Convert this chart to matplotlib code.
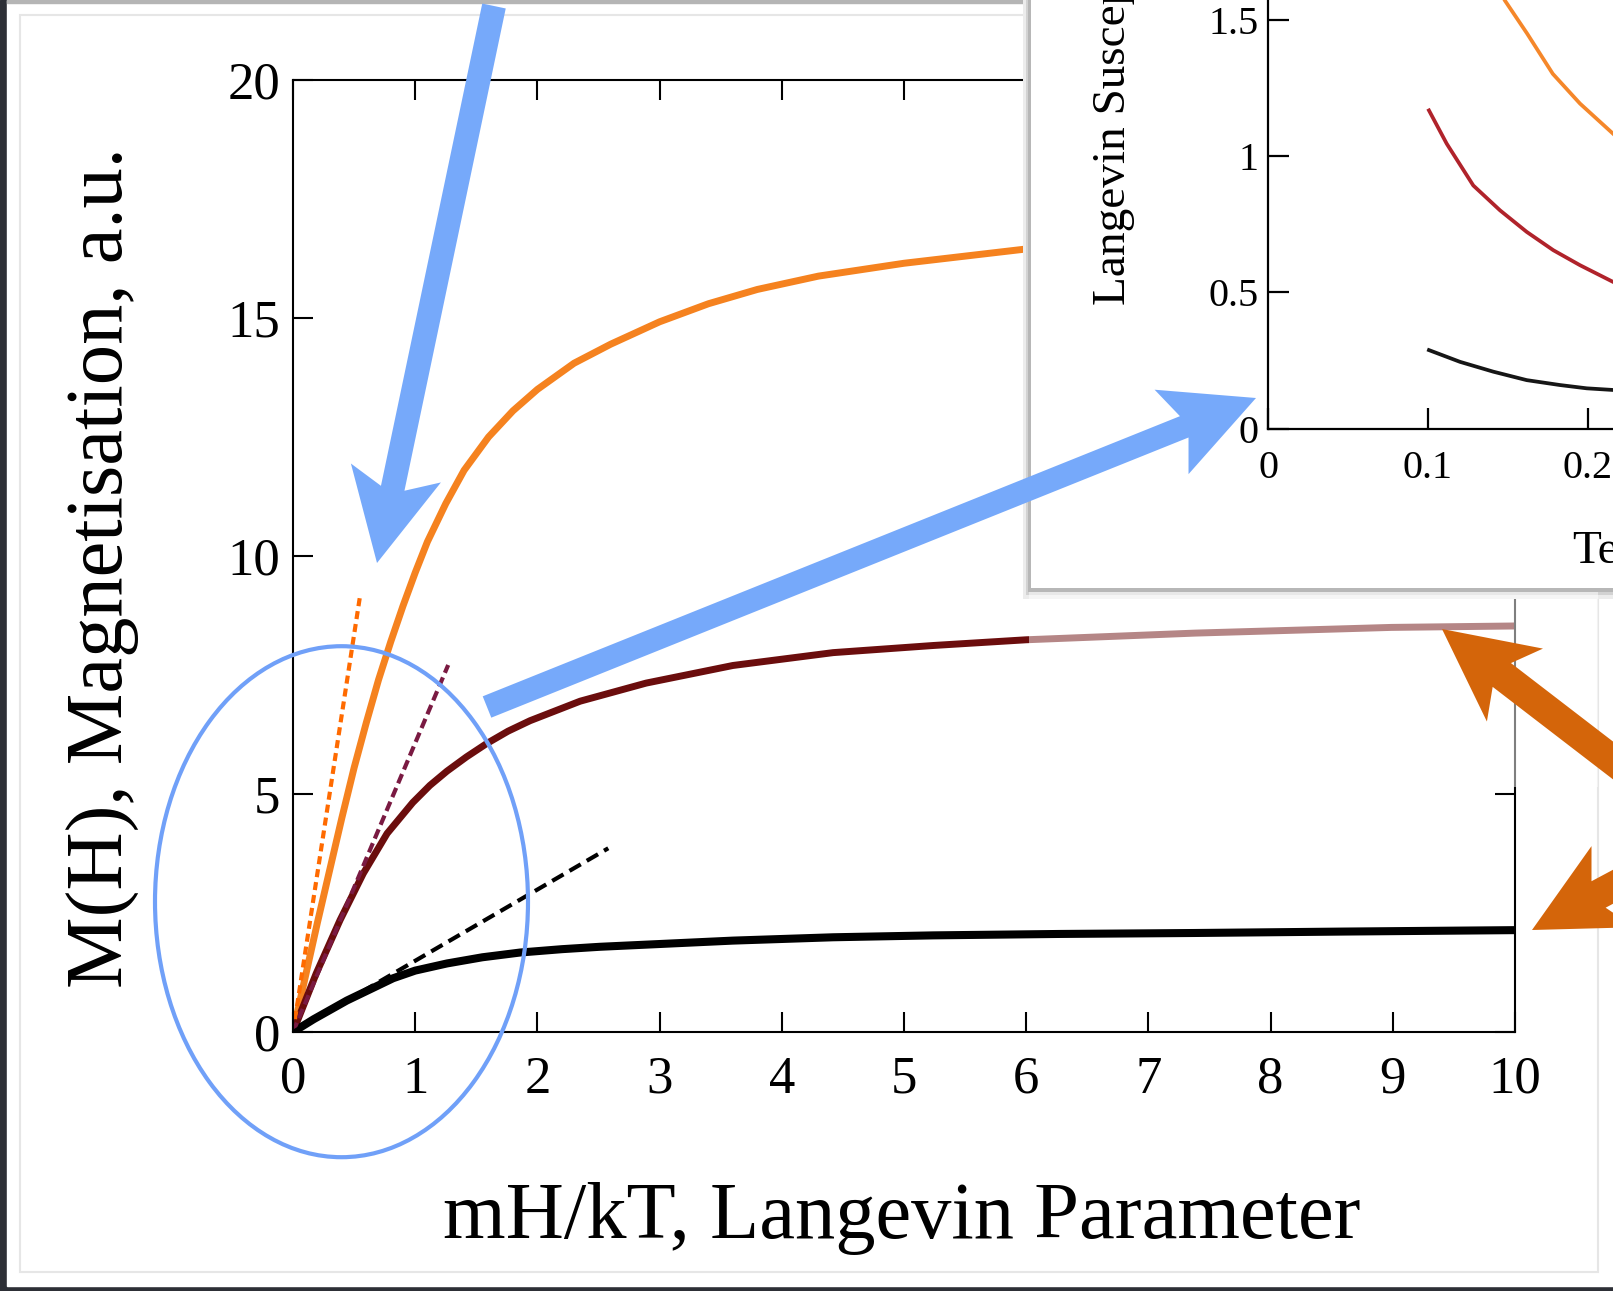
import matplotlib
matplotlib.use("Agg")
import matplotlib.pyplot as plt
from matplotlib.patches import Rectangle, Ellipse, FancyArrow
from matplotlib.ticker import FuncFormatter

W, H = 1613, 1291
DPI = 100

# main panel: M(H) against mH/kT
orange_x = [0, 0.1, 0.2, 0.3, 0.4, 0.5, 0.6, 0.7, 0.8, 0.9, 1.0, 1.1, 1.25, 1.4,
            1.6, 1.8, 2.0, 2.3, 2.6, 3.0, 3.4, 3.8, 4.3, 5.0, 5.5, 6.0, 7.0, 8.0, 9.0, 10.0]
orange_y = [0, 1.15, 2.3, 3.4, 4.5, 5.55, 6.5, 7.4, 8.2, 8.95, 9.65, 10.3, 11.1, 11.8,
            12.5, 13.05, 13.5, 14.05, 14.45, 14.92, 15.3, 15.6, 15.88, 16.15, 16.3, 16.45,
            16.68, 16.88, 17.04, 17.18]

red_x = [0, 0.19, 0.385, 0.575, 0.77, 0.98, 1.12, 1.26, 1.42, 1.585, 1.76, 1.94,
         2.35, 2.89, 3.6, 4.42, 5.24, 6.0, 7.38, 8.99, 10.0]
red_y = [0, 1.23, 2.35, 3.33, 4.17, 4.82, 5.18, 5.48, 5.78, 6.06, 6.32, 6.54,
         6.95, 7.33, 7.70, 7.97, 8.12, 8.24, 8.38, 8.50, 8.53]

black_x = [0, 0.17, 0.44, 0.82, 1.0, 1.26, 1.55, 1.86, 2.2, 2.51, 3.6, 4.42, 5.24,
           6.28, 7.38, 8.6, 10.0]
black_y = [0, 0.27, 0.66, 1.13, 1.29, 1.44, 1.57, 1.67, 1.74, 1.79, 1.92, 1.99, 2.03,
           2.06, 2.08, 2.11, 2.14]

# low-field tangents (start, end)
tan_orange_x = [0, 0.548]
tan_orange_y = [0, 9.15]
tan_red_x = [0, 1.27]
tan_red_y = [0, 7.71]
tan_black_x = [0, 2.58]
tan_black_y = [0, 3.86]

main_xticks = list(range(0, 11))
main_yticks = [0, 5, 10, 15, 20]

# inset: Langevin susceptibility against temperature
in_orange_t = [0.140, 0.148, 0.162, 0.178, 0.195, 0.2156]
in_orange_c = [1.66, 1.570, 1.448, 1.301, 1.192, 1.082]
in_red_t = [0.1006, 0.1117, 0.1283, 0.145, 0.1617, 0.1783, 0.195, 0.2156]
in_red_c = [1.167, 1.045, 0.892, 0.801, 0.722, 0.655, 0.600, 0.539]
in_black_t = [0.1006, 0.12, 0.1408, 0.1617, 0.1825, 0.1992, 0.2156]
in_black_c = [0.289, 0.246, 0.210, 0.179, 0.161, 0.149, 0.143]

in_xticks = [0, 0.1, 0.2, 0.3]
in_yticks = [0, 0.5, 1, 1.5, 2]

plt.rcParams["font.family"] = ["Liberation Serif", "DejaVu Serif"]
plt.rcParams["lines.scale_dashes"] = False

ORANGE = "#f5821f"
DARKRED = "#6b0d0d"
BLUE = "#76a9fa"
ARROW_ORANGE = "#d4650a"


def frac(x0, y0, x1, y1):
    # pixel box measured from top-left -> figure fraction [l, b, w, h]
    return [x0 / W, 1 - y1 / H, (x1 - x0) / W, (y1 - y0) / H]


def overlay_axes(z):
    a = fig.add_axes([0, 0, 1, 1], zorder=z)
    a.set_xlim(0, W)
    a.set_ylim(H, 0)
    a.axis("off")
    a.patch.set_alpha(0)
    return a


fig = plt.figure(figsize=(W / DPI, H / DPI), dpi=DPI)

# slide background
bg = overlay_axes(0)
bg.add_patch(Rectangle((0, 0), W, H, color="#2d2f36"))
bg.add_patch(Rectangle((7, 0), W, 1286, color="white"))
bg.add_patch(Rectangle((7, 0), W, 3, color="#b5b5b5"))
bg.add_patch(Rectangle((20, 15), 1578, 1257, fill=False, ec="#e6e6e6", lw=1.5))

# main axes
ax = fig.add_axes(frac(293, 80, 1515, 1032), zorder=1)
ax.plot(orange_x, orange_y, color=ORANGE, lw=5.0, solid_joinstyle="round")
ax.plot(red_x, red_y, color=DARKRED, lw=5.0, solid_joinstyle="round")
ax.plot(black_x, black_y, color="black", lw=5.8, solid_joinstyle="round")
ax.plot(tan_orange_x, tan_orange_y, color="#ff6a00", lw=3.0, dashes=(5.8, 3.6))
ax.plot(tan_red_x, tan_red_y, color="#7a1a42", lw=3.0, dashes=(7.2, 3.6))
ax.plot(tan_black_x, tan_black_y, color="black", lw=3.0, dashes=(9.4, 5.0))
ax.set_xlim(0, 10)
ax.set_ylim(0, 20)
ax.set_xticks(main_xticks)
ax.set_yticks(main_yticks)
ax.tick_params(direction="in", length=14.5, width=1.5, top=True, right=True,
               labelsize=38, colors="black")
ax.tick_params(axis="x", pad=17)
ax.tick_params(axis="y", pad=9)
for s in ax.spines.values():
    s.set_linewidth(1.5)
ax.set_xlabel("mH/kT, Langevin Parameter", fontsize=58, va="center")
ax.xaxis.set_label_coords(0.4984, -0.1960)
ax.set_ylabel("M(H), Magnetisation, a.u.", fontsize=58, va="center", ha="center")
ax.yaxis.set_label_coords(-0.1555, 0.4874)

# inset window (white box with a soft shadow)
pn = overlay_axes(2)
pn.add_patch(Rectangle((1023, -10), 700, 609, color="#ececec", lw=0))
pn.add_patch(Rectangle((1026, -10), 700, 605, color="#d2d2d2", lw=0))
pn.add_patch(Rectangle((1028, -10), 700, 602, color="#b7b7b7", lw=0))
pn.add_patch(Rectangle((1031, -10), 700, 598, color="white", lw=0))

ins = fig.add_axes(frac(1268, 429 - 4 * 136.5, 1268 + 480, 429), zorder=3)
ins.patch.set_alpha(0)
ins.plot(in_orange_t, in_orange_c, color="#f5872a", lw=2.7)
ins.plot(in_red_t, in_red_c, color="#b0232b", lw=2.7)
ins.plot(in_black_t, in_black_c, color="#161616", lw=2.7)
ins.set_xlim(0, 0.3)
ins.set_ylim(0, 2)
ins.set_xticks(in_xticks)
ins.set_yticks(in_yticks)
fmt = FuncFormatter(lambda v, pos: f"{v:g}")
ins.xaxis.set_major_formatter(fmt)
ins.yaxis.set_major_formatter(fmt)
ins.tick_params(direction="in", length=15, width=1.6, labelsize=29, colors="black")
ins.tick_params(axis="x", pad=15)
ins.tick_params(axis="y", pad=7)
for s in ins.spines.values():
    s.set_linewidth(1.6)
ins.set_xlabel("Temperature", fontsize=34, ha="left", va="center")
ins.xaxis.set_label_coords(0.633, -0.2253)
ins.set_ylabel("Langevin Susceptibility", fontsize=34, ha="left", va="center")
ins.yaxis.set_label_coords(-0.321, 0.227)

# annotations on top
ov = overlay_axes(4)
ov.add_patch(Rectangle((1029, 592), 569, 195, color="white", alpha=0.5, lw=0, zorder=1))
ov.add_patch(Ellipse((341.5, 901.7), 373, 511, fill=False, ec="#70a0f8", lw=3.0, zorder=2))


def arrow(tail, tip, color, width, head, overhang):
    ov.add_patch(FancyArrow(tail[0], tail[1], tip[0] - tail[0], tip[1] - tail[1],
                            width=width, head_width=head, head_length=head,
                            overhang=overhang, length_includes_head=True,
                            color=color, lw=0, zorder=3))


arrow((494, 6), (377, 563), BLUE, 24, 92, 0.17)
arrow((487, 707), (1256, 398), BLUE, 23, 91, 0.15)
arrow((1710, 835), (1442, 629), ARROW_ORANGE, 30, 92, 0.18)
arrow((1710, 835), (1532, 930), ARROW_ORANGE, 30, 92, 0.18)

fig.savefig("out.png", dpi=DPI)
